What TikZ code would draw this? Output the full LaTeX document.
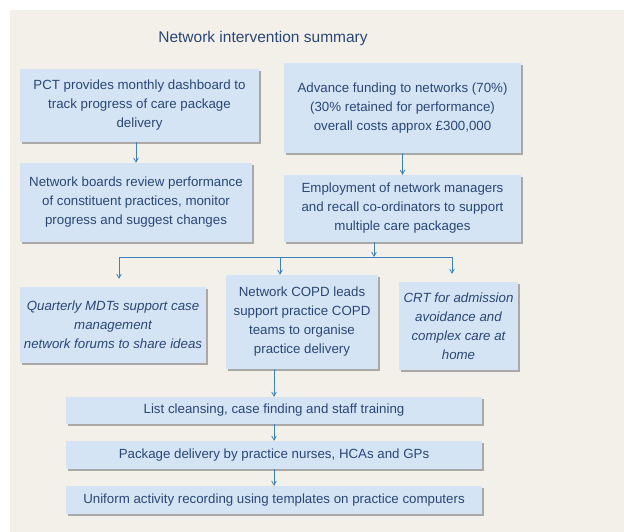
\documentclass[tikz,border=0pt]{standalone}
\usepackage{fontspec}
\setmainfont{Liberation Sans}
\usetikzlibrary{arrows,shadows,positioning}
\definecolor{panelbg}{HTML}{F3F0E9}
\definecolor{boxblue}{HTML}{D4E4F5}
\definecolor{inkblue}{HTML}{2A4778}
\definecolor{lineblue}{HTML}{3A82C4}

\begin{document}
\begin{tikzpicture}[x=1pt,y=-1pt,>=angle 60,
  font=\fontsize{13.3}{19}\selectfont,text=inkblue,
  stepbox/.style={fill=boxblue,align=center,inner sep=2pt,
    drop shadow={shadow xshift=1.6pt,shadow yshift=-1.6pt,fill=black!45,opacity=0.7}},
  flow/.style={->,draw=lineblue,line width=0.8pt}]
  \useasboundingbox (0,0) rectangle (624,532);
  \fill[panelbg] (10,10) rectangle (624,532);
  \node[font=\fontsize{15.5}{18}\selectfont] (title) at (263,38) {Network intervention summary};
  % top row
  \node[stepbox,minimum width=239,minimum height=73] (pct) at (139.5,105.5)
    {PCT provides monthly dashboard to\\track progress of care package\\delivery};
  \node[stepbox,minimum width=237,minimum height=90] (funding) at (402.5,108)
    {Advance funding to networks (70\%)\\(30\% retained for performance)\\overall costs approx £300,000};
  % second row
  \node[stepbox,minimum width=232,minimum height=79] (boards) at (136,202.5)
    {Network boards review performance\\of constituent practices, monitor\\progress and suggest changes};
  \node[stepbox,minimum width=237,minimum height=67] (employ) at (402.5,208.5)
    {Employment of network managers\\and recall co-ordinators to support\\multiple care packages};
  \draw[flow] (boards.north |- pct.south) -- (boards.north);
  \draw[flow] (funding) -- (employ);
  % split into three
  \node[stepbox,font=\fontsize{13.3}{19}\selectfont\itshape,minimum width=186,minimum height=76] (mdt) at (113,325)
    {Quarterly MDTs support case\\management\\network forums to share ideas};
  \node[stepbox,minimum width=152,minimum height=94] (copd) at (302,322)
    {Network COPD leads\\support practice COPD\\teams to organise\\practice delivery};
  \node[stepbox,font=\fontsize{13.3}{19}\selectfont\itshape,minimum width=119,minimum height=88] (crt) at (458.5,326)
    {CRT for admission\\avoidance and\\complex care at\\home};
  \coordinate (bus) at (374,257);
  \coordinate (busL) at (119,257);
  \coordinate (busM) at (280,257);
  \coordinate (busR) at (452,257);
  \draw[flow] (employ.south -| bus) -- (bus);
  \draw[lineblue,line width=0.8pt] (busL) -- (busR);
  \draw[flow,shorten >=8pt] (busL) -- (busL |- mdt.north);
  \draw[flow] (busM) -- (busM |- copd.north);
  \draw[flow,shorten >=8pt] (busR) -- (busR |- crt.north);
  % practice level steps
  \node[stepbox,minimum width=416,minimum height=27] (list) at (274,410.5)
    {List cleansing, case finding and staff training};
  \node[stepbox,minimum width=416,minimum height=28] (deliver) at (274,455)
    {Package delivery by practice nurses, HCAs and GPs};
  \node[stepbox,minimum width=416,minimum height=28] (record) at (274,500)
    {Uniform activity recording using templates on practice computers};
  \draw[flow] (list.north |- copd.south) -- (list.north);
  \draw[flow] (list) -- (deliver);
  \draw[flow] (deliver) -- (record);
\end{tikzpicture}
\end{document}
